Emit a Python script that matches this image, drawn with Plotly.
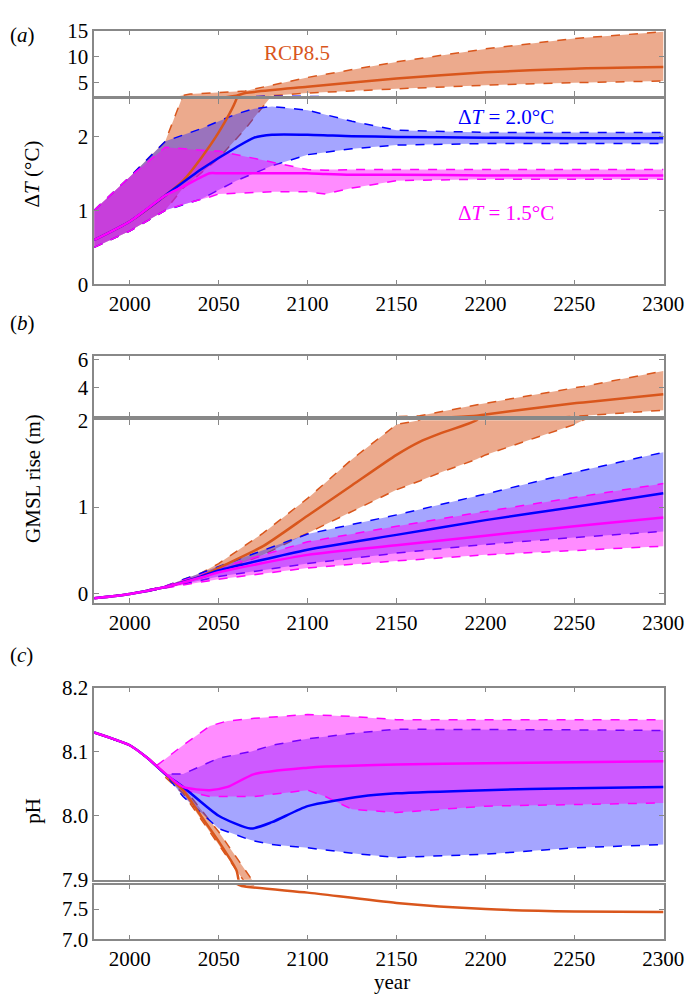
import plotly.graph_objects as go

# ---------- DATA ----------
# Panel a: temperature anomaly
a_rcp_med_x = [1980, 2000, 2020, 2030, 2040, 2050, 2060, 2065, 2100, 2150, 2200, 2250, 2300]
a_rcp_med_y = [0.6, 0.85, 1.2, 1.4, 1.7, 2.05, 2.5, 3.0, 4.2, 5.8, 7.0, 7.7, 8.0]
a_rcp_up_x = [1980, 2000, 2020, 2034, 2065, 2100, 2150, 2200, 2250, 2300]
a_rcp_up_y = [1.0, 1.45, 1.93, 2.8, 3.4, 6.0, 9.0, 11.5, 13.5, 14.8]
a_rcp_lo_x = [1980, 2000, 2020, 2030, 2050, 2065, 2080, 2100, 2150, 2200, 2250, 2300]
a_rcp_lo_y = [0.5, 0.72, 1.0, 1.3, 1.7, 2.1, 2.55, 3.0, 3.8, 4.5, 5.0, 5.3]

a_t2_x = [1980, 2000, 2020, 2040, 2060, 2070, 2080, 2100, 2125, 2150, 2200, 2250, 2300]
a_t2_med = [0.6, 0.85, 1.2, 1.55, 1.85, 1.98, 2.02, 2.02, 2.0, 1.99, 1.98, 1.97, 1.97]
a_t2_up = [1.0, 1.45, 1.93, 2.1, 2.3, 2.37, 2.4, 2.35, 2.2, 2.08, 2.05, 2.05, 2.05]
a_t2_lo = [0.5, 0.72, 1.0, 1.15, 1.4, 1.5, 1.6, 1.75, 1.83, 1.88, 1.9, 1.9, 1.9]

a_t15_x = [1980, 2000, 2020, 2030, 2045, 2050, 2080, 2100, 2110, 2125, 2150, 2200, 2300]
a_t15_med = [0.6, 0.85, 1.2, 1.32, 1.5, 1.5, 1.5, 1.5, 1.49, 1.48, 1.48, 1.47, 1.47]
a_t15_up = [1.0, 1.45, 1.85, 1.83, 1.8, 1.8, 1.65, 1.55, 1.54, 1.55, 1.55, 1.55, 1.55]
a_t15_lo = [0.5, 0.72, 1.0, 1.08, 1.18, 1.22, 1.25, 1.25, 1.22, 1.3, 1.4, 1.42, 1.42]

# Panel b: GMSL rise
b_rcp_x = [1980, 2000, 2020, 2040, 2050, 2075, 2100, 2125, 2150, 2163, 2175, 2195, 2200, 2250, 2255, 2300]
b_rcp_med = [-0.05, 0.0, 0.08, 0.2, 0.3, 0.55, 0.9, 1.25, 1.6, 1.75, 1.85, 2.0, 2.1, 2.9, 2.95, 3.55]
b_rcp_up = [-0.05, 0.0, 0.09, 0.24, 0.35, 0.7, 1.1, 1.55, 1.95, 2.0, 2.3, 2.8, 2.9, 4.0, 4.1, 5.2]
b_rcp_lo = [-0.05, 0.0, 0.07, 0.18, 0.25, 0.45, 0.7, 0.95, 1.2, 1.3, 1.4, 1.55, 1.6, 1.95, 2.0, 2.4]

b_x = [1980, 2000, 2020, 2040, 2050, 2100, 2150, 2200, 2250, 2300]
b_t2_med = [-0.05, 0.0, 0.08, 0.2, 0.27, 0.51, 0.68, 0.85, 1.0, 1.16]
b_t2_up = [-0.05, 0.0, 0.09, 0.24, 0.32, 0.69, 0.91, 1.15, 1.4, 1.63]
b_t2_lo = [-0.05, 0.0, 0.07, 0.16, 0.2, 0.35, 0.47, 0.57, 0.65, 0.72]
b_t15_med = [-0.05, 0.0, 0.08, 0.19, 0.25, 0.45, 0.56, 0.67, 0.78, 0.88]
b_t15_up = [-0.05, 0.0, 0.09, 0.22, 0.3, 0.6, 0.78, 0.95, 1.11, 1.27]
b_t15_lo = [-0.05, 0.0, 0.07, 0.14, 0.17, 0.3, 0.38, 0.45, 0.5, 0.55]

# Panel c: pH
c_rcp_x = [1980, 2000, 2010, 2020, 2030, 2040, 2050, 2060, 2063, 2100, 2150, 2200, 2250, 2300]
c_rcp_med = [8.13, 8.11, 8.09, 8.065, 8.04, 8.0, 7.96, 7.915, 7.88, 7.77, 7.6, 7.5, 7.46, 7.45]
c_rcp_band_x = [2020, 2030, 2040, 2050, 2060, 2070]
c_rcp_up = [8.065, 8.045, 8.01, 7.975, 7.935, 7.895]
c_rcp_lo = [8.06, 8.035, 7.995, 7.955, 7.915, 7.875]

c_t2_x = [1980, 2000, 2010, 2020, 2030, 2050, 2068, 2080, 2100, 2130, 2150, 2200, 2250, 2300]
c_t2_med = [8.13, 8.11, 8.09, 8.065, 8.045, 8.0, 7.98, 7.99, 8.015, 8.03, 8.035, 8.04, 8.043, 8.045]
c_t2_up = [8.13, 8.11, 8.09, 8.065, 8.065, 8.09, 8.1, 8.11, 8.12, 8.13, 8.135, 8.135, 8.134, 8.133]
c_t2_lo = [8.13, 8.11, 8.09, 8.065, 8.03, 7.98, 7.962, 7.955, 7.95, 7.94, 7.935, 7.94, 7.95, 7.955]

c_t15_x = [1980, 2000, 2010, 2015, 2030, 2045, 2055, 2070, 2100, 2110, 2125, 2150, 2200, 2300]
c_t15_med = [8.13, 8.11, 8.09, 8.078, 8.045, 8.04, 8.045, 8.065, 8.075, 8.077, 8.078, 8.08, 8.082, 8.085]
c_t15_up = [8.13, 8.11, 8.09, 8.078, 8.11, 8.14, 8.148, 8.152, 8.158, 8.157, 8.155, 8.15, 8.15, 8.15]
c_t15_lo = [8.13, 8.11, 8.09, 8.078, 8.04, 8.03, 8.03, 8.03, 8.04, 8.03, 8.01, 8.005, 8.015, 8.02]

ORANGE = "#D9561C"
BLUE = "#0000FF"
MAG = "#FF00FF"
FILLS = {ORANGE: "rgba(217,86,28,0.5)", BLUE: "rgba(40,40,255,0.42)", MAG: "rgba(255,0,255,0.45)"}

fig = go.Figure()

def band(ax, xu, yu, xl, yl, col):
    xa, ya = ("x" if ax == 1 else f"x{ax}"), ("y" if ax == 1 else f"y{ax}")
    fig.add_trace(go.Scatter(x=list(xl) + list(xu)[::-1], y=list(yl) + list(yu)[::-1],
                             fill="toself", fillcolor=FILLS[col], line=dict(width=0),
                             mode="lines", xaxis=xa, yaxis=ya, showlegend=False, hoverinfo="skip"))
    for xx, yy in ((xu, yu), (xl, yl)):
        fig.add_trace(go.Scatter(x=xx, y=yy, mode="lines", line=dict(color=col, width=1.5, dash="dash"),
                                 xaxis=xa, yaxis=ya, showlegend=False))

def med(ax, xx, yy, col):
    xa, ya = ("x" if ax == 1 else f"x{ax}"), ("y" if ax == 1 else f"y{ax}")
    fig.add_trace(go.Scatter(x=xx, y=yy, mode="lines", line=dict(color=col, width=2.5, shape="spline", smoothing=0.6),
                             xaxis=xa, yaxis=ya, showlegend=False))

# axes: 1 a-top, 2 a-bottom, 3 b-top, 4 b-bottom, 5 c-top, 6 c-bottom
for ax in (1, 2):
    band(ax, a_rcp_up_x, a_rcp_up_y, a_rcp_lo_x, a_rcp_lo_y, ORANGE)
    band(ax, a_t2_x, a_t2_up, a_t2_x, a_t2_lo, BLUE)
    band(ax, a_t15_x, a_t15_up, a_t15_x, a_t15_lo, MAG)
    med(ax, a_rcp_med_x, a_rcp_med_y, ORANGE)
    med(ax, a_t2_x, a_t2_med, BLUE)
    med(ax, a_t15_x, a_t15_med, MAG)
for ax in (3, 4):
    band(ax, b_rcp_x, b_rcp_up, b_rcp_x, b_rcp_lo, ORANGE)
    band(ax, b_x, b_t2_up, b_x, b_t2_lo, BLUE)
    band(ax, b_x, b_t15_up, b_x, b_t15_lo, MAG)
    med(ax, b_rcp_x, b_rcp_med, ORANGE)
    med(ax, b_x, b_t2_med, BLUE)
    med(ax, b_x, b_t15_med, MAG)
for ax in (5, 6):
    band(ax, c_rcp_band_x, c_rcp_up, c_rcp_band_x, c_rcp_lo, ORANGE)
    band(ax, c_t2_x, c_t2_up, c_t2_x, c_t2_lo, BLUE)
    band(ax, c_t15_x, c_t15_up, c_t15_x, c_t15_lo, MAG)
    med(ax, c_rcp_x, c_rcp_med, ORANGE)
    med(ax, c_t2_x, c_t2_med, BLUE)
    med(ax, c_t15_x, c_t15_med, MAG)

domains = {1: [0.922, 0.989], 2: [0.729, 0.919], 3: [0.594, 0.656], 4: [0.403, 0.59],
           5: [0.119, 0.316], 6: [0.058, 0.114]}
yranges = {1: [2.4, 15], 2: [0, 2.5], 3: [1.97, 6.3], 4: [-0.1, 2], 5: [7.9, 8.2], 6: [7.0, 7.9]}
yticks = {1: [5, 10, 15], 2: [0, 1, 2], 3: [4, 6], 4: [0, 1, 2], 5: [7.9, 8.0, 8.1, 8.2], 6: [7.0, 7.5]}
yfmt = {1: "", 2: "", 3: "", 4: "", 5: ".1f", 6: ".1f"}
xtickyears = [2000, 2050, 2100, 2150, 2200, 2250, 2300]
FONT = "Liberation Serif, Times New Roman, serif"
axstyle = dict(showline=True, linecolor="#888", linewidth=1.5, mirror="ticks", ticks="inside",
               tickcolor="#888", ticklen=5, showgrid=False, zeroline=False,
               tickfont=dict(family=FONT, size=21, color="black"))
lay = {}
for ax in range(1, 7):
    xk = "xaxis" if ax == 1 else f"xaxis{ax}"
    yk = "yaxis" if ax == 1 else f"yaxis{ax}"
    lay[xk] = dict(axstyle, range=[1980, 2300.5], domain=[0.128, 0.975], tickvals=xtickyears,
                   anchor="y" if ax == 1 else f"y{ax}", showticklabels=(ax % 2 == 0))
    lay[yk] = dict(axstyle, range=yranges[ax], domain=domains[ax], tickvals=yticks[ax],
                   tickformat=yfmt[ax], anchor="x" if ax == 1 else f"x{ax}")
fig.update_layout(**lay)

def txt(x, y, s, col="black", size=21, ang=0, anchor="center", yanchor="middle"):
    fig.add_annotation(x=x, y=y, xref="paper", yref="paper", text=s, showarrow=False,
                       font=dict(family=FONT, size=size, color=col), textangle=ang,
                       xanchor=anchor, yanchor=yanchor)

txt(0.0, 0.985, "(<i>a</i>)", anchor="left")
txt(0.0, 0.69, "(<i>b</i>)", anchor="left")
txt(0.0, 0.349, "(<i>c</i>)", anchor="left")
txt(0.036, 0.842, "Δ<i>T</i> (°C)", ang=-90)
txt(0.036, 0.53, "GMSL rise (m)", ang=-90)
txt(0.036, 0.19, "pH", ang=-90)
txt(0.57, 0.0, "year", yanchor="bottom")
txt(0.43, 0.966, "RCP8.5", col=ORANGE)
txt(0.74, 0.901, "Δ<i>T</i> = 2.0°C", col=BLUE)
txt(0.74, 0.802, "Δ<i>T</i> = 1.5°C", col=MAG)

fig.update_layout(width=695, height=1000, margin=dict(l=0, r=22, t=0, b=0),
                  font=dict(family=FONT, size=21, color="black"),
                  plot_bgcolor="white", paper_bgcolor="white")
fig.write_html("out.html")
